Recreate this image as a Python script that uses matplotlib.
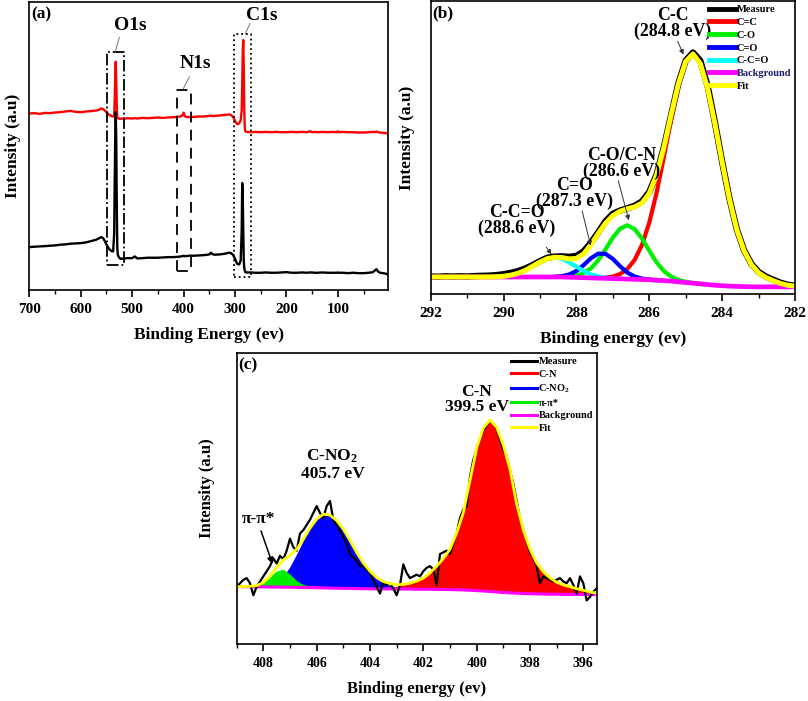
import numpy as np
import matplotlib
matplotlib.use("Agg")
import matplotlib.pyplot as plt
from matplotlib.ticker import MultipleLocator
from matplotlib.lines import Line2D

plt.rcParams["font.family"] = ["Liberation Serif", "DejaVu Serif"]
plt.rcParams["font.weight"] = "bold"
plt.rcParams["axes.labelweight"] = "bold"
plt.rcParams["mathtext.fontset"] = "custom"
plt.rcParams["mathtext.rm"] = "Liberation Serif:bold"
plt.rcParams["mathtext.it"] = "Liberation Serif:italic:bold"
plt.rcParams["mathtext.bf"] = "Liberation Serif:bold"
plt.rcParams["axes.linewidth"] = 1.2

# ---- (a) survey spectra ----
survey_ev = [700, 690, 680, 670, 660, 650, 640, 630, 620, 610,
             600, 590, 580, 570, 565, 560, 556, 552, 548, 544,
             540, 537, 535, 534, 533, 532, 531, 530, 529, 528,
             526, 523, 520, 515, 510, 500, 495, 490, 480, 470,
             460, 450, 440, 430, 420, 410, 405, 402, 400, 398,
             395, 390, 380, 370, 360, 350, 347, 344, 340, 330,
             320, 312, 308, 304, 300, 296, 292, 289, 287, 286,
             285, 284, 283, 282, 281, 280, 278, 275, 270, 260,
             250, 240, 230, 220, 210, 200, 190, 180, 170, 160,
             155, 150, 145, 140, 130, 120, 110, 102, 100, 98,
             90, 80, 70, 60, 50, 40, 32, 28, 25, 22,
             18, 12, 6, 3]
survey_red = [176.7, 177.0, 176.3, 177.3, 177.0, 177.7, 178.0, 178.7, 179.3, 178.3,
              178.0, 178.7, 179.0, 179.7, 180.3, 181.7, 181.0, 179.0, 177.0, 175.0,
              174.0, 173.7, 174.3, 190.0, 212.0, 228.3, 210.0, 185.0, 174.0, 172.0,
              171.7, 171.3, 171.7, 171.3, 172.0, 171.7, 172.0, 171.7, 172.3, 172.0,
              172.3, 172.7, 172.3, 172.7, 173.0, 173.3, 174.0, 175.0, 177.5, 174.3,
              173.3, 173.0, 173.3, 173.7, 173.7, 174.3, 174.7, 174.0, 174.3, 174.7,
              175.3, 175.7, 175.3, 173.3, 169.3, 166.0, 166.7, 170.0, 180.0, 206.7,
              238.0, 250.0, 222.0, 180.0, 161.7, 159.0, 158.3, 158.3, 158.0, 158.3,
              158.0, 158.3, 158.0, 158.3, 158.0, 158.0, 158.3, 158.0, 158.3, 158.0,
              159.0, 158.0, 158.3, 158.0, 158.3, 158.0, 158.3, 158.0, 159.0, 158.0,
              158.3, 158.0, 158.0, 157.7, 157.7, 158.0, 158.3, 158.0, 158.7, 158.0,
              157.7, 157.3, 157.0, 156.7]
survey_black = [43.3, 43.7, 44.0, 44.3, 44.7, 45.0, 45.7, 46.0, 46.7, 47.0,
                47.3, 48.0, 49.3, 50.7, 52.0, 53.3, 52.0, 48.0, 44.0, 41.0,
                39.3, 39.0, 56.7, 106.7, 150.0, 178.3, 150.0, 90.0, 43.3, 36.0,
                33.3, 31.7, 31.7, 32.0, 32.3, 32.3, 34.0, 32.0, 32.3, 32.7,
                32.7, 32.7, 33.0, 33.3, 33.3, 33.7, 34.0, 34.3, 34.7, 34.3,
                34.3, 34.7, 34.7, 35.0, 35.3, 36.0, 37.7, 36.3, 35.7, 36.0,
                36.7, 37.7, 37.3, 35.7, 31.7, 26.7, 26.0, 30.0, 60.0, 107.3,
                95.0, 60.0, 30.0, 22.0, 20.0, 18.3, 18.0, 18.0, 18.0, 17.7,
                17.7, 18.0, 17.7, 17.7, 18.0, 18.3, 17.7, 17.7, 18.0, 17.7,
                18.0, 18.0, 17.7, 17.7, 18.0, 17.7, 17.7, 17.7, 18.0, 17.7,
                17.7, 17.3, 17.7, 17.3, 17.3, 17.7, 18.3, 20.0, 21.3, 19.0,
                17.7, 17.3, 16.7, 16.0]
# region boxes: label, ev_hi, ev_lo, y_lo, y_hi, linestyle
survey_boxes = [("O1s", 549.4, 515.8, 25.0, 238.3, "-."),
                ("N1s", 413.2, 386.0, 19.3, 200.0, (0, (6, 4))),
                ("C1s", 301.8, 269.3, 13.3, 255.7, ":")]

# ---- (b) C1s high resolution ----
c1s_measure = [0.002, 0.001, 0.003, 0.002, 0.003, 0.002, 0.004, 0.005, 0.006, 0.008,
               0.012, 0.018, 0.026, 0.037, 0.052, 0.069, 0.084, 0.089, 0.090, 0.088,
               0.092, 0.112, 0.150, 0.195, 0.243, 0.276, 0.290, 0.300, 0.311, 0.330,
               0.371, 0.447, 0.566, 0.707, 0.846, 0.945, 0.980, 0.945, 0.835, 0.676,
               0.503, 0.343, 0.210, 0.117, 0.058, 0.022, 0.002, -0.012, -0.025, -0.034,
               -0.038]
c1s_fit = [0.000, 0.000, 0.000, 0.000, 0.000, 0.000, 0.000, 0.000, 0.000, 0.001,
           0.003, 0.008, 0.016, 0.029, 0.047, 0.065, 0.080, 0.086, 0.085, 0.079,
           0.081, 0.101, 0.141, 0.190, 0.235, 0.268, 0.287, 0.298, 0.306, 0.323,
           0.365, 0.445, 0.565, 0.709, 0.844, 0.941, 0.974, 0.932, 0.824, 0.671,
           0.501, 0.341, 0.208, 0.115, 0.055, 0.018, -0.002, -0.016, -0.028, -0.036,
           -0.040]
c1s_bg = [0.000, 0.000, 0.000, 0.000, 0.000, 0.000, 0.000, 0.000, 0.000, 0.000,
          0.000, 0.000, 0.000, 0.000, 0.000, 0.000, 0.000, 0.000, 0.000, -0.001,
          -0.002, -0.003, -0.004, -0.005, -0.006, -0.007, -0.008, -0.009, -0.010, -0.011,
          -0.012, -0.014, -0.016, -0.018, -0.021, -0.024, -0.027, -0.030, -0.033, -0.036,
          -0.038, -0.040, -0.041, -0.042, -0.043, -0.043, -0.043, -0.043, -0.043, -0.043,
          -0.043]
c1s_cc = [-0.004, -0.004, -0.002, 0.002, 0.013, 0.035, 0.075, 0.140, 0.237, 0.367,
          0.523, 0.689, 0.836, 0.938, 0.973, 0.932, 0.824, 0.671, 0.501, 0.341,
          0.208, 0.115, 0.055, 0.018, -0.002, -0.016, -0.028, -0.036, -0.040]
c1s_co = [0.000, 0.001, 0.002, 0.006, 0.017, 0.038, 0.073, 0.121, 0.172, 0.211,
          0.226, 0.209, 0.168, 0.115, 0.064, 0.026, 0.002, -0.013, -0.021, -0.026,
          -0.030]
c1s_c_o = [0.001, 0.004, 0.011, 0.026, 0.052, 0.082, 0.102, 0.101, 0.079, 0.047,
           0.019, 0.002, -0.007, -0.011, -0.014]
c1s_cco = [0.000, 0.001, 0.003, 0.008, 0.016, 0.029, 0.047, 0.065, 0.080, 0.085,
           0.080, 0.064, 0.045, 0.026, 0.012, 0.003, -0.003, -0.006]

# ---- (c) N1s high resolution ----
n1s_measure = [0.00, 0.02, 0.04, 0.05, 0.02, -0.05, 0.00, 0.03, 0.06, 0.09,
               0.12, 0.165, 0.135, 0.18, 0.16, 0.21, 0.28, 0.23, 0.21, 0.31,
               0.33, 0.36, 0.39, 0.43, 0.47, 0.43, 0.40, 0.47, 0.50, 0.39,
               0.36, 0.33, 0.29, 0.25, 0.19, 0.17, 0.15, 0.12, 0.12, 0.10,
               0.08, 0.04, 0.00, -0.04, 0.03, 0.01, 0.02, -0.01, -0.05, 0.01,
               0.13, 0.08, 0.05, 0.06, 0.07, 0.06, 0.09, 0.11, 0.12, 0.10,
               0.01, 0.19, 0.20, 0.21, 0.19, 0.25, 0.31, 0.40, 0.45, 0.47,
               0.64, 0.74, 0.80, 0.86, 0.91, 0.94, 0.97, 0.95, 0.92, 0.86,
               0.80, 0.76, 0.68, 0.60, 0.50, 0.40, 0.33, 0.27, 0.20, 0.17,
               0.12, 0.02, 0.06, 0.05, 0.04, 0.03, 0.04, 0.05, 0.03, 0.02,
               0.05, 0.01, -0.04, 0.06, 0.02, -0.08, -0.06, -0.03, -0.01]
n1s_fit = [0.000, 0.001, 0.002, 0.006, 0.024, 0.062, 0.114, 0.156, 0.183, 0.219,
           0.277, 0.341, 0.394, 0.423, 0.417, 0.386, 0.335, 0.270, 0.199, 0.138,
           0.090, 0.053, 0.030, 0.018, 0.012, 0.013, 0.020, 0.032, 0.050, 0.080,
           0.119, 0.164, 0.218, 0.312, 0.431, 0.619, 0.807, 0.925, 0.972, 0.929,
           0.826, 0.684, 0.482, 0.330, 0.219, 0.138, 0.087, 0.051, 0.026, 0.010,
           0.000, -0.012, -0.021, -0.031, -0.038]
n1s_bg = [0.000, 0.000, 0.000, -0.001, -0.001, -0.002, -0.002, -0.003, -0.003, -0.004,
          -0.005, -0.005, -0.006, -0.007, -0.008, -0.009, -0.010, -0.010, -0.011, -0.012,
          -0.012, -0.013, -0.013, -0.013, -0.014, -0.014, -0.014, -0.015, -0.015, -0.015,
          -0.016, -0.016, -0.017, -0.018, -0.019, -0.021, -0.023, -0.025, -0.028, -0.031,
          -0.034, -0.036, -0.038, -0.040, -0.041, -0.042, -0.043, -0.044, -0.044, -0.045,
          -0.045, -0.045, -0.046, -0.046, -0.046]
n1s_cno2 = [0.001, 0.002, 0.004, 0.011, 0.020, 0.033, 0.062, 0.117, 0.191, 0.270,
            0.340, 0.394, 0.423, 0.417, 0.386, 0.335, 0.270, 0.199, 0.138, 0.088,
            0.049, 0.023, 0.007, -0.004, -0.010, -0.013]
n1s_pi = [0.000, 0.001, 0.012, 0.040, 0.079, 0.091, 0.063, 0.024, 0.002, -0.004, -0.006]
n1s_cn = [-0.010, -0.009, -0.006, -0.002, 0.002, 0.009, 0.019, 0.032, 0.050, 0.080,
          0.119, 0.164, 0.218, 0.312, 0.431, 0.619, 0.807, 0.925, 0.972, 0.929,
          0.826, 0.684, 0.482, 0.330, 0.219, 0.138, 0.087, 0.051, 0.026, 0.010,
          0.000, -0.012, -0.021, -0.031, -0.038]

RED, GREEN, BLUE, CYAN, MAG, YEL = "#ff0000", "#00ee00", "#0000ff", "#00ffff", "#ff00ff", "#ffff00"

fig = plt.figure(figsize=(8.08, 7.01), dpi=100)
ax_a = fig.add_axes([0.0363, 0.5856, 0.4436, 0.4120])
ax_b = fig.add_axes([0.5330, 0.5802, 0.4509, 0.4177])
ax_c = fig.add_axes([0.2929, 0.0809, 0.4455, 0.4151])


def style(ax, major, minor, size):
    ax.xaxis.set_major_locator(MultipleLocator(major))
    ax.xaxis.set_minor_locator(MultipleLocator(minor))
    ax.tick_params(axis="x", which="major", direction="out", length=5, width=1.2,
                   labelsize=size, pad=4)
    ax.tick_params(axis="x", which="minor", direction="out", length=3, width=1.0)
    ax.set_yticks([])
    for lab in ax.get_xticklabels():
        lab.set_fontweight("bold")


# (a)
ax_a.plot(survey_ev, survey_red, color=RED, lw=1.7)
ax_a.plot(survey_ev, survey_black, color="black", lw=1.7)
for name, hi, lo, y0, y1, ls in survey_boxes:
    ax_a.plot([hi, lo, lo, hi, hi], [y0, y0, y1, y1, y0], color="black", lw=1.3, ls=ls)
ax_a.text(504, 265, "O1s", fontsize=14, ha="center", va="center")
ax_a.plot([533, 525], [238.3, 252.7], color="#777777", lw=0.7)
ax_a.text(377.6, 226.7, "N1s", fontsize=14, ha="center", va="center")
ax_a.plot([400.4, 388.7], [201.7, 213.3], color="#777777", lw=0.7)
ax_a.text(248, 275, "C1s", fontsize=14, ha="center", va="center")
ax_a.plot([280.3, 270.6], [256, 266.7], color="#777777", lw=0.7)
ax_a.set_xlim(700, 3)
ax_a.set_ylim(0, 288.3)
style(ax_a, 100, 50, 11)
ax_a.set_xlabel("Binding Energy (ev)", fontsize=12.5, labelpad=8)
ax_a.set_ylabel("Intensity (a.u)", fontsize=12.5, labelpad=6)
ax_a.text(0.005, 0.985, "(a)", transform=ax_a.transAxes, fontsize=12.5, va="top", ha="left")

# (b)
xb = np.linspace(292, 282, len(c1s_fit))
ax_b.plot(xb, c1s_measure, color="black", lw=4.6, solid_capstyle="round")
ax_b.plot(xb[22:], c1s_cc, color=RED, lw=3)
ax_b.plot(xb[17:38], c1s_co, color=GREEN, lw=3)
ax_b.plot(xb[17:32], c1s_c_o, color=BLUE, lw=3)
ax_b.plot(xb[8:26], c1s_cco, color=CYAN, lw=3)
ax_b.plot(xb, c1s_bg, color=MAG, lw=3.4)
ax_b.plot(xb, c1s_fit, color=YEL, lw=3.6)
ax_b.set_xlim(292, 282)
ax_b.set_ylim(-0.0755, 1.203)
style(ax_b, 2, 1, 11)
ax_b.set_xlabel("Binding energy (ev)", fontsize=12.5, labelpad=8)
ax_b.set_ylabel("Intensity (a.u)", fontsize=12.5, labelpad=6)
ax_b.yaxis.set_label_coords(-0.043, 0.534)
ax_b.text(0.005, 0.985, "(b)", transform=ax_b.transAxes, fontsize=12.5, va="top", ha="left")

arr_b = dict(arrowstyle="-|>", color="#333333", lw=0.7, mutation_scale=7)
ax_b.text(285.36, 1.107, "C-C\n(284.8 eV)", fontsize=12.8, ha="center", va="center", linespacing=0.9)
ax_b.annotate("", xy=(285.03, 0.96), xytext=(285.25, 1.04), arrowprops=arr_b)
ax_b.text(286.77, 0.497, "C-O/C-N\n(286.6 eV)", fontsize=12.8, ha="center", va="center", linespacing=0.9)
ax_b.annotate("", xy=(286.54, 0.236), xytext=(286.87, 0.432), arrowprops=arr_b)
ax_b.text(288.05, 0.365, "C=O\n(287.3 eV)", fontsize=12.8, ha="center", va="center", linespacing=0.9)
ax_b.annotate("", xy=(287.59, 0.125), xytext=(287.86, 0.300), arrowprops=arr_b)
ax_b.text(289.63, 0.245, "C-C=O\n(288.6 eV)", fontsize=12.8, ha="center", va="center", linespacing=0.9)
ax_b.annotate("", xy=(288.64, 0.089), xytext=(288.87, 0.140), arrowprops=arr_b)

hb = [Line2D([], [], color=c, lw=3.5) for c in ["black", RED, GREEN, BLUE, CYAN, MAG, YEL]]
leg_b = ax_b.legend(hb, ["Measure", "C=C", "C-O", "C=O", "C-C=O", "Background", "Fit"],
                    loc="upper right", frameon=False, fontsize=7.5, handlelength=2.6,
                    handletextpad=0.1, labelspacing=0.33, borderaxespad=0.15, borderpad=0.2)
leg_b.get_texts()[5].set_color("#1c1c6a")

# (c)
xc = np.linspace(409, 395.5, len(n1s_fit))
xm = np.linspace(409, 395.5, len(n1s_measure))
ax_c.fill_between(xc[1:27], n1s_bg[1:27], n1s_cno2, color=BLUE, lw=0)
ax_c.fill_between(xc[20:], n1s_bg[20:], n1s_cn, color=RED, lw=0)
ax_c.fill_between(xc[2:13], n1s_bg[2:13], n1s_pi, color=GREEN, lw=0)
ax_c.plot(xc[2:13], n1s_pi, color=GREEN, lw=1.8)
ax_c.plot(xc, n1s_bg, color=MAG, lw=2.2)
ax_c.plot(xm, n1s_measure, color="black", lw=1.6)
ax_c.plot(xc, n1s_fit, color=YEL, lw=2.0)
ax_c.set_xlim(409, 395.5)
ax_c.set_ylim(-0.336, 1.361)
style(ax_c, 2, 1, 10)
ax_c.set_xlabel("Binding energy (ev)", fontsize=12, labelpad=8)
ax_c.set_ylabel("Intensity (a.u)", fontsize=12, labelpad=6)
ax_c.yaxis.set_label_coords(-0.06, 0.537)
ax_c.text(0.005, 0.985, "(c)", transform=ax_c.transAxes, fontsize=12.5, va="top", ha="left")

ax_c.text(400.0, 1.09, "C-N\n399.5 eV", fontsize=12.5, ha="center", va="center", linespacing=0.9)
ax_c.text(405.44, 0.758, "C-NO$_2$", fontsize=12.5, ha="center", va="center")
ax_c.text(405.4, 0.657, "405.7 eV", fontsize=12.5, ha="center", va="center")
ax_c.text(408.19, 0.393, "π-π*", fontsize=12.5, ha="center", va="center")
ax_c.annotate("", xy=(407.62, 0.117), xytext=(408.12, 0.34),
              arrowprops=dict(arrowstyle="-|>", color="black", lw=1.1, mutation_scale=9))

hc = [Line2D([], [], color=c, lw=2.2) for c in ["black", RED, BLUE, GREEN, MAG, YEL]]
ax_c.legend(hc, ["Measure", "C-N", "C-NO$_2$", "π-π*", "Background", "Fit"],
            loc="upper right", frameon=False, fontsize=7.5, handlelength=2.5,
            handletextpad=0.1, labelspacing=0.33, borderaxespad=0.15, borderpad=0.2)

fig.savefig("out.png", dpi=100)
